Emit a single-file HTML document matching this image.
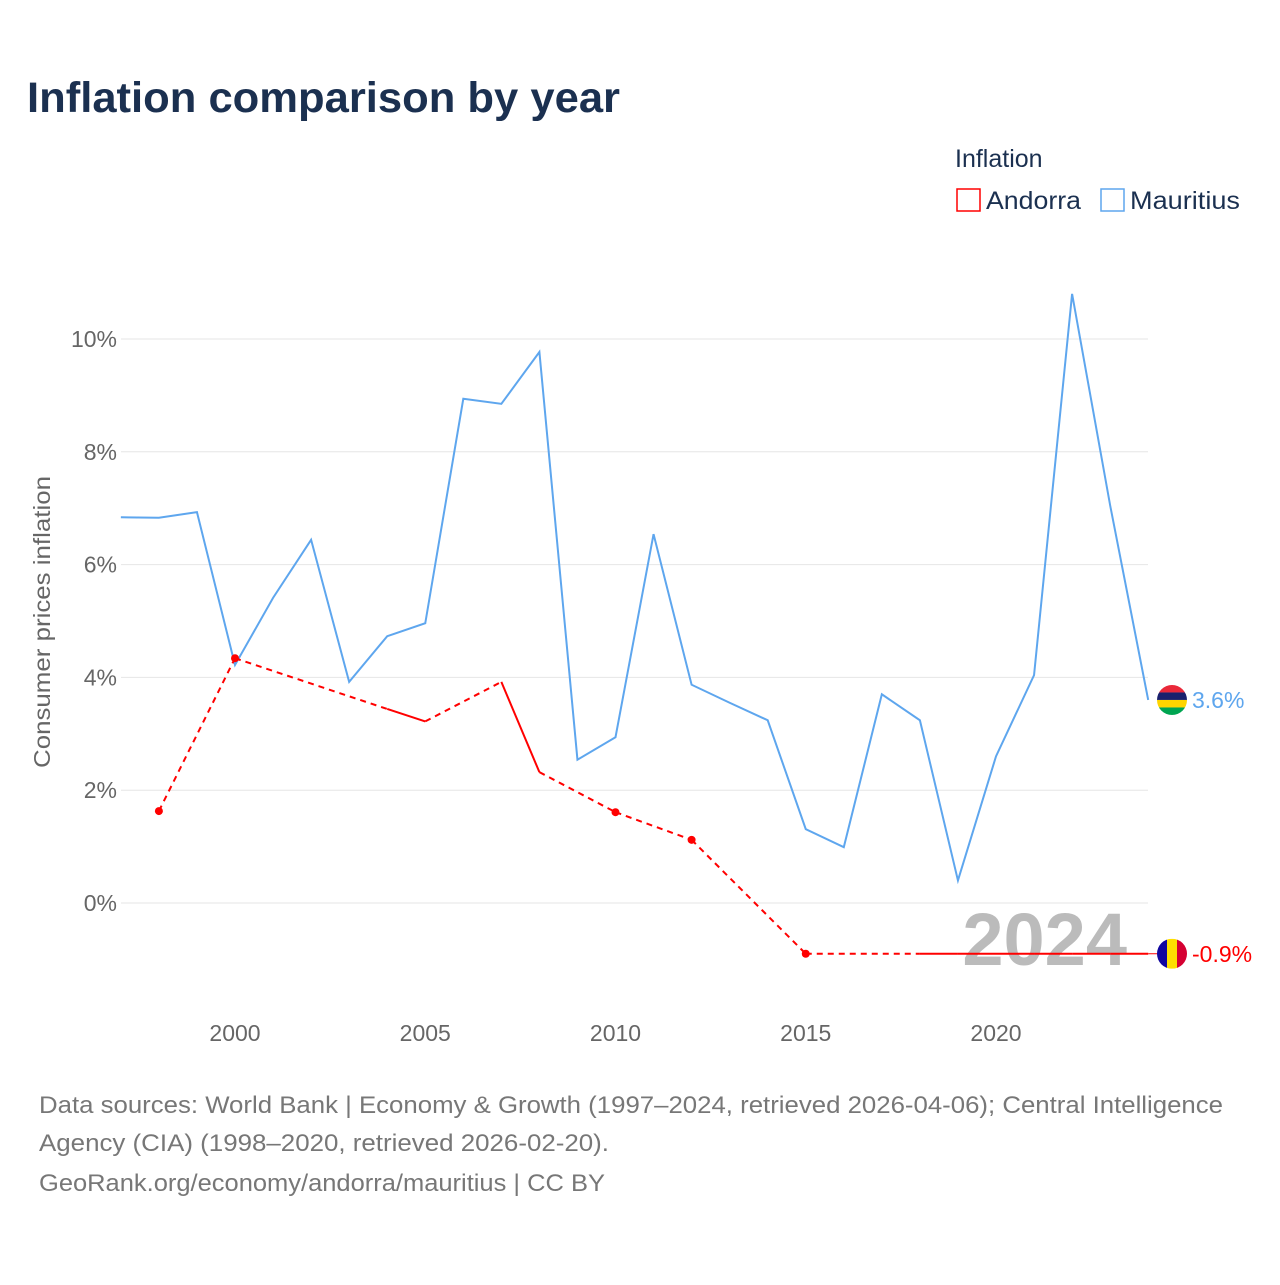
<!DOCTYPE html>
<html><head><meta charset="utf-8">
<style>
body{margin:0;background:#fff;font-family:"Liberation Sans",sans-serif;}
svg text{font-family:"Liberation Sans",sans-serif;}
</style></head>
<body>
<svg id="chart" width="1280" height="1280" viewBox="0 0 1280 1280" xmlns="http://www.w3.org/2000/svg">
<rect width="1280" height="1280" fill="#fff"/>
<text x="27" y="112" font-size="43" font-weight="bold" fill="#1b3050" textLength="593" lengthAdjust="spacingAndGlyphs">Inflation comparison by year</text>
<text x="955" y="167" font-size="25" fill="#1b3050">Inflation</text>
<g>
<rect x="957" y="189" width="23" height="22" fill="none" stroke="#f00" stroke-width="1.5"/>
<text x="986" y="209" font-size="25" fill="#1b3050" textLength="95" lengthAdjust="spacingAndGlyphs">Andorra</text></g>
<g>
<rect x="1101" y="189" width="23" height="22" fill="none" stroke="#5ea6ee" stroke-width="1.5"/>
<text x="1130" y="209" font-size="25" fill="#1b3050" textLength="110" lengthAdjust="spacingAndGlyphs">Mauritius</text></g>
<text transform="translate(50,622) rotate(-90)" text-anchor="middle" font-size="23" fill="#666" textLength="292" lengthAdjust="spacingAndGlyphs">Consumer prices inflation</text>
<g id="grid"></g><g id="yticks"></g><g id="xticks"></g>
<text x="1127" y="965" text-anchor="end" font-size="74" font-weight="bold" fill="#bbb">2024</text>
<g id="series"></g>
<g font-size="24" fill="#777">
<text x="39" y="1113" textLength="1184" lengthAdjust="spacingAndGlyphs">Data sources: World Bank | Economy &amp; Growth (1997–2024, retrieved 2026-04-06); Central Intelligence</text>
<text x="39" y="1151" textLength="570" lengthAdjust="spacingAndGlyphs">Agency (CIA) (1998–2020, retrieved 2026-02-20).</text>
<text x="39" y="1191" textLength="566" lengthAdjust="spacingAndGlyphs">GeoRank.org/economy/andorra/mauritius | CC BY</text>
</g>
</svg>
<script>
const mauYears=[1997,1998,1999,2000,2001,2002,2003,2004,2005,2006,2007,2008,2009,2010,2011,2012,2013,2014,2015,2016,2017,2018,2019,2020,2021,2022,2023,2024];
const mauValues=[6.84,6.83,6.93,4.22,5.41,6.44,3.92,4.73,4.96,8.94,8.85,9.77,2.54,2.94,6.54,3.87,3.55,3.24,1.31,0.99,3.7,3.24,0.4,2.6,4.04,10.8,7.05,3.6];
const andYears=[1998,2000,2004,2005,2007,2008,2010,2012,2015,2018,2019,2020,2021,2022,2023,2024];
const andValues=[1.63,4.34,3.44,3.22,3.92,2.32,1.61,1.12,-0.9,-0.9,-0.9,-0.9,-0.9,-0.9,-0.9,-0.9];
const yTicks=[0,2,4,6,8,10];
const xTicks=[2000,2005,2010,2015,2020];
const NS="http://www.w3.org/2000/svg";
const x=yr=>235+(yr-2000)*38.05;
const y=v=>903-v*56.4;
function mk(t,a,p){const e=document.createElementNS(NS,t);for(const k in a)e.setAttribute(k,a[k]);p.appendChild(e);return e;}
const grid=document.getElementById('grid'),yt=document.getElementById('yticks'),xt=document.getElementById('xticks'),ser=document.getElementById('series');
yTicks.forEach(v=>{
 const l=mk('line',{x1:121,x2:1148,y1:y(v),y2:y(v),stroke:'#e6e6e6','stroke-width':1},grid);
 
 
 const t=mk('text',{x:117,y:y(v)+8,'text-anchor':'end','font-size':23,fill:'#666'},yt);t.textContent=v+'%';
 
 
});
xTicks.forEach(v=>{
 const t=mk('text',{x:x(v),y:1041,'text-anchor':'middle','font-size':23,fill:'#666'},xt);t.textContent=v;
 
 
});
const mp=mk('polyline',{points:mauYears.map((yr,i)=>x(yr)+','+y(mauValues[i])).join(' '),fill:'none',stroke:'#5ea6ee','stroke-width':2},ser);


for(let i=1;i<andYears.length;i++){
 const gap=andYears[i]-andYears[i-1]>1;
 const s=mk('line',{x1:x(andYears[i-1]),y1:y(andValues[i-1]),x2:x(andYears[i]),y2:y(andValues[i]),stroke:'#f00','stroke-width':2},ser);
 if(gap)s.setAttribute('stroke-dasharray','6,5');
 
 
}
andYears.forEach((yr,i)=>{
 const prev=i>0&&andYears[i-1]===yr-1, next=i<andYears.length-1&&andYears[i+1]===yr+1;
 if(!prev&&!next){const c=mk('circle',{cx:x(yr),cy:y(andValues[i]),r:4,fill:'#f00'},ser);
 
 }
});
const lx=x(2024);
const aL=mk('line',{x1:lx,x2:lx+25,y1:y(andValues[andValues.length-1]),y2:y(andValues[andValues.length-1]),stroke:'#f00','stroke-width':1},ser);


function flag(cy,cols,name){
 const g=mk('g',{},ser);
 
 
 const id='c'+name;
 const cp=mk('clipPath',{id:id},g);mk('circle',{cx:1172,cy:cy,r:15},cp);
 const gg=mk('g',{'clip-path':'url(#'+id+')'},g);
 cols.forEach((c,i)=>{ if(c.h) mk('rect',{x:1157,y:cy-15+i*7.5,width:30,height:7.5,fill:c.c},gg); else mk('rect',{x:1157+i*10,y:cy-15,width:10,height:30,fill:c.c},gg);});
}
flag(y(mauValues[mauValues.length-1]),[{h:1,c:'#ea2839'},{h:1,c:'#1a206d'},{h:1,c:'#ffd500'},{h:1,c:'#00a551'}],'mauritius-flag');
flag(y(andValues[andValues.length-1]),[{c:'#10069f'},{c:'#fedf00'},{c:'#d50032'}],'andorra-flag');
const mt=mk('text',{x:1192,y:y(mauValues[mauValues.length-1])+8,'font-size':23,fill:'#5ea6ee'},ser);mt.textContent=mauValues[mauValues.length-1].toFixed(1)+'%';


const at=mk('text',{x:1192,y:y(andValues[andValues.length-1])+8,'font-size':23,fill:'#f00'},ser);at.textContent=andValues[andValues.length-1].toFixed(1)+'%';


</script>
</body></html>
